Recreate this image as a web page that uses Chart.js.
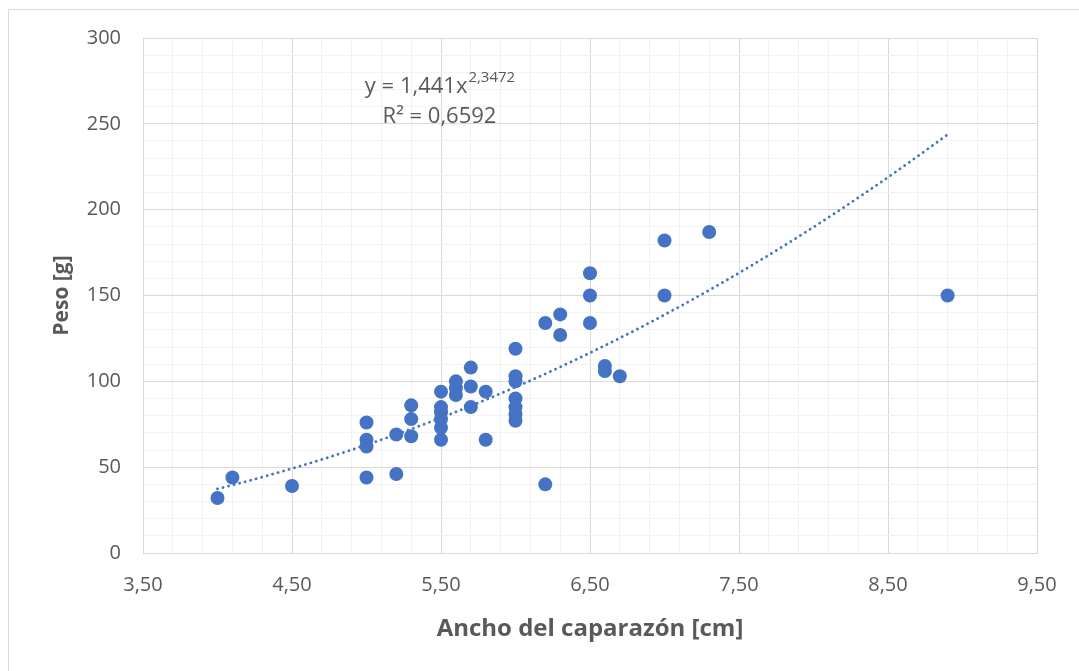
<!DOCTYPE html>
<html>
<head>
<meta charset="utf-8">
<script src="https://cdn.jsdelivr.net/npm/chart.js@4.4.1/dist/chart.umd.min.js"></script>
<style>
  html, body { margin: 0; padding: 0; background: #ffffff; }
  canvas { display: block; }
</style>
</head>
<body>
<canvas id="scatter-chart" width="1079" height="671"></canvas>
<script>
// carapace width [cm] and weight [g], one entry per specimen
const anchoCaparazon = [
  4.0, 4.1, 4.5,
  5.0, 5.0, 5.0, 5.0,
  5.2, 5.2,
  5.3, 5.3, 5.3,
  5.5, 5.5, 5.5, 5.5, 5.5, 5.5,
  5.6, 5.6, 5.6,
  5.7, 5.7, 5.7,
  5.8, 5.8,
  6.0, 6.0, 6.0, 6.0, 6.0, 6.0, 6.0,
  6.2, 6.2,
  6.3, 6.3,
  6.5, 6.5, 6.5,
  6.6, 6.6,
  6.7,
  7.0, 7.0,
  7.3,
  8.9
];
const peso = [
  32, 44, 39,
  76, 66, 62, 44,
  69, 46,
  86, 78, 68,
  94, 85, 82, 78, 73, 66,
  100, 96, 92,
  108, 97, 85,
  94, 66,
  119, 103, 100, 90, 85, 81, 77,
  134, 40,
  139, 127,
  163, 150, 134,
  109, 106,
  103,
  182, 150,
  187,
  150
];

// power trendline y = a * x^b as reported on the chart
const trendA = 1.441;
const trendB = 2.3472;
const trendR2 = "0,6592";
const trendText = "y = 1,441x";
const trendExpText = "2,3472";

// axis ranges and tick steps
const xMin = 3.5, xMax = 9.5, xMajor = 1, xMinor = 0.2;
const yMin = 0, yMax = 300, yMajor = 50, yMinor = 10;

const azul = "#4472C4";
const gris = "#595959";
const fontFam = "'Open Sans', sans-serif";

const puntos = anchoCaparazon.map((x, i) => ({ x: x, y: peso[i] }));

// sample the fitted curve between the smallest and largest width
const xLo = Math.min(...anchoCaparazon);
const xHi = Math.max(...anchoCaparazon);
const curva = [];
for (let i = 0; i <= 60; i++) {
  const x = xLo + (xHi - xLo) * i / 60;
  curva.push({ x: x, y: trendA * Math.pow(x, trendB) });
}

function isMajor(v, start, step) {
  const r = Math.abs((v - start) / step);
  return Math.abs(r - Math.round(r)) < 1e-6;
}

// outer frame and the trendline equation
const extras = {
  id: "extras",
  beforeDraw(chart) {
    const ctx = chart.ctx;
    ctx.save();
    ctx.strokeStyle = "#d9d9d9";
    ctx.lineWidth = 1;
    ctx.strokeRect(8.5, 9.5, 1200, 800);
    ctx.restore();
  },
  afterDatasetsDraw(chart) {
    const ctx = chart.ctx;
    const xs = chart.scales.x, ys = chart.scales.y;
    const cx = xs.getPixelForValue(5.49);
    const y1 = ys.getPixelForValue(268);
    const y2 = ys.getPixelForValue(250.5);
    ctx.save();
    ctx.fillStyle = gris;
    ctx.textBaseline = "alphabetic";
    ctx.textAlign = "left";
    ctx.font = "22px " + fontFam;
    const w1 = ctx.measureText(trendText).width;
    ctx.font = "15px " + fontFam;
    const w2 = ctx.measureText(trendExpText).width;
    let x0 = cx - (w1 + w2) / 2;
    ctx.font = "22px " + fontFam;
    ctx.fillText(trendText, x0, y1);
    ctx.font = "15px " + fontFam;
    ctx.fillText(trendExpText, x0 + w1 + 1, y1 - 11);
    ctx.font = "22px " + fontFam;
    ctx.textAlign = "center";
    ctx.fillText("R² = " + trendR2, cx, y2);
    ctx.restore();
  }
};

new Chart(document.getElementById("scatter-chart"), {
  type: "scatter",
  data: {
    datasets: [{
      label: "Peso",
      data: puntos,
      backgroundColor: azul,
      borderColor: azul,
      borderWidth: 0,
      pointRadius: 7,
      pointHoverRadius: 7,
      order: 1
    }, {
      type: "line",
      label: "Tendencia",
      data: curva,
      borderColor: azul,
      borderWidth: 2.8,
      borderDash: [0.1, 5.6],
      borderCapStyle: "round",
      pointRadius: 0,
      fill: false,
      tension: 0,
      order: 2
    }]
  },
  options: {
    responsive: false,
    animation: false,
    layout: { padding: { left: 45, right: 42, top: 38, bottom: 18 } },
    plugins: {
      legend: { display: false },
      tooltip: { enabled: false }
    },
    scales: {
      x: {
        type: "linear",
        min: xMin,
        max: xMax,
        afterFit: s => { s.height = 100; },
        ticks: {
          stepSize: xMinor,
          autoSkip: false,
          maxRotation: 0,
          padding: 20,
          color: gris,
          font: { family: fontFam, size: 20 },
          callback: v => isMajor(v, xMin, xMajor) ? v.toFixed(2).replace(".", ",") : ""
        },
        grid: {
          drawTicks: false,
          color: c => isMajor(c.tick.value, xMin, xMajor) ? "#d9d9d9" : "#f2f2f2"
        },
        border: { color: "#d9d9d9" },
        title: {
          display: true,
          text: "Ancho del caparazón [cm]",
          color: gris,
          padding: { top: 0, bottom: 9 },
          font: { family: fontFam, size: 24, weight: "bold" }
        }
      },
      y: {
        min: yMin,
        max: yMax,
        afterFit: s => { s.width = 98; },
        ticks: {
          stepSize: yMinor,
          autoSkip: false,
          padding: 22,
          color: gris,
          font: { family: fontFam, size: 20 },
          callback: v => isMajor(v, yMin, yMajor) ? String(v) : ""
        },
        grid: {
          drawTicks: false,
          color: c => isMajor(c.tick.value, yMin, yMajor) ? "#d9d9d9" : "#f2f2f2"
        },
        border: { color: "#d9d9d9" },
        title: {
          display: true,
          text: "Peso [g]",
          color: gris,
          padding: { top: 4, bottom: 0 },
          font: { family: fontFam, size: 21, weight: "bold" }
        }
      }
    }
  },
  plugins: [extras]
});
</script>
</body>
</html>
